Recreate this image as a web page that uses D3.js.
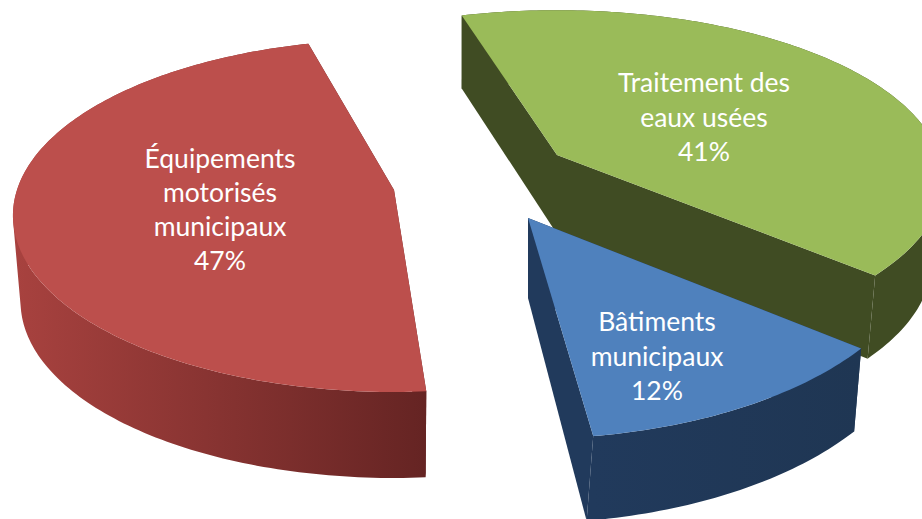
<!DOCTYPE html>
<html><head><meta charset="utf-8">
<script src="https://cdn.jsdelivr.net/npm/d3@7/dist/d3.min.js"></script>
<style>html,body{margin:0;padding:0;background:#fff;overflow:hidden}svg{display:block}</style>
</head><body><svg id="c" width="922" height="519"></svg>
<script>
const categories = ["Traitement des eaux usées", "Bâtiments municipaux", "Équipements motorisés municipaux"];
const values = [41, 12, 47];
const labelLines = [["Traitement des", "eaux usées", "41%"], ["Bâtiments", "municipaux", "12%"], ["Équipements", "motorisés", "municipaux", "47%"]];
const topColors = ["#9abb59", "#4f81bd", "#bc4f4c"];
const wallColors = [["#404c23", "#404c23"], ["#213a5c", "#1f3653"], ["#a8423f", "#652423"]];
const apexes = [[557, 155], [528, 218], [394, 190]];
const scalesX = [1, 1.03, 0.987];
const scalesY = [0.96, 1.125, 1];
const perspective = [0.145, 0.12, 0.145];
const spin = [0.5, -2.2, 2];
const depths = [79, 80, 86];
const depthSlopes = [0.08, 0.06, 0];
const shrinks = [0.97, 0.99, 0.98];
const lowSkew = [3, -6, 0];
const labelX = [704, 657, 220];
const labelY = [92, 331, 168];
const lineGap = [34.5, 34.5, 34];

const R = 382, T = 172.7;
const svg = d3.select("#c");
const defs = svg.append("defs");
const rad = Math.PI / 180;
const arcs = d3.pie().sort(null).startAngle(-17 * rad).endAngle(343 * rad)(values)
  .map((a, i) => ({ startAngle: a.startAngle + spin[i] * rad, endAngle: a.endAngle + spin[i] * rad }));

function proj(i, a, r, low) {
  const u = r * Math.sin(a), v = -r * Math.cos(a), d = 1 - perspective[i] * v;
  return [apexes[i][0] + scalesX[i] * (low ? shrinks[i] : 1) * R * u / d + (low ? lowSkew[i] * v : 0),
          apexes[i][1] + scalesY[i] * T * v / d + (low ? depths[i] * (1 + depthSlopes[i] * v) : 0)];
}
const line = d3.line();
const rim = (i, low) => {
  const a = arcs[i], n = Math.ceil((a.endAngle - a.startAngle) / rad);
  return d3.range(n + 1).map(k => proj(i, a.startAngle + (a.endAngle - a.startAngle) * k / n, 1, low));
};

categories.forEach((c, i) => {
  const g = defs.append("linearGradient").attr("id", "w" + i).attr("gradientUnits", "userSpaceOnUse");
  const xs = rim(i, false).map(p => p[0]);
  g.attr("x1", d3.min(xs)).attr("x2", d3.max(xs)).attr("y1", 0).attr("y2", 0);
  g.append("stop").attr("offset", 0).attr("stop-color", wallColors[i][0]);
  g.append("stop").attr("offset", 1).attr("stop-color", wallColors[i][1]);
});

[0, 2, 1].forEach(i => {
  const a = arcs[i], g = svg.append("g").attr("class", "slice");
  const at = proj(i, 0, 0, false), ab = proj(i, 0, 0, true);
  const dark = wallColors[i][i === 2 ? 1 : 0];
  const face = ang => line([at, proj(i, ang, 1, false), proj(i, ang, 1, true), ab]) + "Z";
  g.append("path").attr("fill", dark).attr("d", face(a.startAngle));
  g.append("path").attr("fill", dark).attr("d", face(a.endAngle));
  const up = rim(i, false), lo = rim(i, true);
  // one path made of equally wound quads, so that no seam shows between them
  const wall = d3.range(up.length - 1).map(k => {
    const q = [up[k], up[k + 1], lo[k + 1], lo[k]];
    return line(d3.polygonArea(q) < 0 ? q.reverse() : q) + "Z";
  }).join("");
  g.append("path").attr("fill", `url(#w${i})`).attr("d", wall);
  g.append("path").attr("fill", topColors[i]).attr("d", line([at].concat(up)) + "Z");
});

categories.forEach((c, i) => {
  const t = svg.append("text").attr("text-anchor", "middle").attr("fill", "#fff")
    .attr("font-family", "Lato, 'Open Sans', sans-serif").attr("font-size", 26.5);
  labelLines[i].forEach((s, k) => t.append("tspan").attr("x", labelX[i]).attr("y", labelY[i] + k * lineGap[i]).text(s));
});
</script></body></html>
